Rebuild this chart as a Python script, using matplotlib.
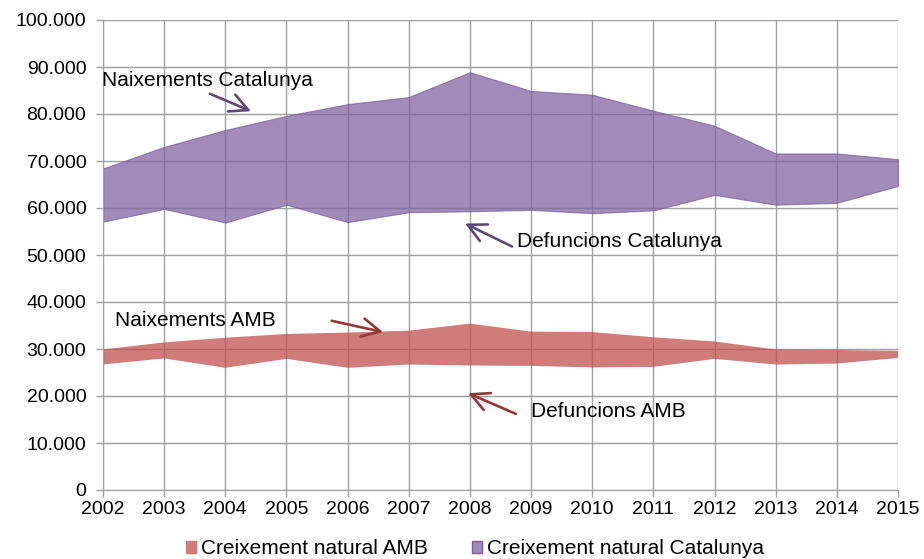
import matplotlib
matplotlib.use("Agg")
import matplotlib.pyplot as plt
from matplotlib.ticker import FuncFormatter, MultipleLocator
from matplotlib.patches import Patch

years = [2002, 2003, 2004, 2005, 2006, 2007, 2008, 2009, 2010, 2011, 2012, 2013, 2014, 2015]
naix_cat = [68.4, 73.0, 76.6, 79.6, 82.1, 83.6, 88.9, 84.9, 84.1, 80.7, 77.5, 71.6, 71.6, 70.4]
def_cat = [57.1, 59.8, 56.9, 60.7, 57.0, 59.1, 59.3, 59.6, 58.9, 59.5, 62.8, 60.7, 61.1, 64.7]
naix_amb = [29.9, 31.4, 32.4, 33.2, 33.5, 33.9, 35.4, 33.7, 33.6, 32.5, 31.6, 29.9, 29.8, 29.6]
def_amb = [26.7, 28.0, 26.0, 27.9, 26.0, 26.7, 26.5, 26.4, 26.1, 26.2, 27.9, 26.7, 26.9, 28.1]
naix_cat = [v * 1000 for v in naix_cat]
def_cat = [v * 1000 for v in def_cat]
naix_amb = [v * 1000 for v in naix_amb]
def_amb = [v * 1000 for v in def_amb]

plt.rcParams['font.family'] = ['Liberation Sans', 'DejaVu Sans']
fig = plt.figure(figsize=(9.24, 5.59), dpi=100)
ax = fig.add_axes([103/924, 1-490/559, (898-103)/924, 470/559])

grid_c = '#a0a0a0'
ax.set_axisbelow(True)
ax.grid(True, color=grid_c, lw=1.0)

ax.fill_between(years, def_amb, naix_amb, facecolor='#c0504d', alpha=0.75, lw=0, zorder=2)
ax.fill_between(years, def_cat, naix_cat, facecolor='#8064a2', alpha=0.75,
                edgecolor='#7a60a0', lw=0.8, zorder=2)

ax.set_xlim(2002, 2015)
ax.set_ylim(0, 100000)
ax.set_xticks(years)
ax.yaxis.set_major_locator(MultipleLocator(10000))
ax.yaxis.set_major_formatter(FuncFormatter(lambda v, p: f"{int(v):,}".replace(",", ".")))
for s in ['top', 'right']:
    ax.spines[s].set_visible(False)
for s in ['left', 'bottom']:
    ax.spines[s].set_color(grid_c)
ax.tick_params(axis='both', colors=grid_c, labelcolor='black', labelsize=14, length=5, width=1)
ax.tick_params(axis='y', pad=7)
ax.tick_params(axis='x', pad=3)

cat_arrow = '#60497a'
amb_arrow = '#953735'
ap = dict(arrowstyle='->,head_length=0.65,head_width=0.33', lw=1.9, mutation_scale=20,
          shrinkA=0, shrinkB=0)
tfs = 15
ax.annotate('', xy=(2004.42, 80600), xytext=(2003.75, 84300),
            arrowprops=dict(color=cat_arrow, **ap))
ax.text(2001.99, 87200, 'Naixements Catalunya', fontsize=tfs, va='center', ha='left')
ax.annotate('', xy=(2007.92, 56700), xytext=(2008.69, 51800),
            arrowprops=dict(color=cat_arrow, **ap))
ax.text(2008.77, 52800, 'Defuncions Catalunya', fontsize=tfs, va='center', ha='left')
ax.annotate('', xy=(2006.58, 33600), xytext=(2005.74, 36000),
            arrowprops=dict(color=amb_arrow, **ap))
ax.text(2002.2, 36000, 'Naixements AMB', fontsize=tfs, va='center', ha='left')
ax.annotate('', xy=(2007.97, 20600), xytext=(2008.75, 16200),
            arrowprops=dict(color=amb_arrow, **ap))
ax.text(2009.0, 16700, 'Defuncions AMB', fontsize=tfs, va='center', ha='left')

handles = [Patch(facecolor='#d07c79', edgecolor='#d07c79', label='Creixement natural AMB'),
           Patch(facecolor='#a08bba', edgecolor='#7a60a0', label='Creixement natural Catalunya')]
fig.legend(handles=handles, loc='center', bbox_to_anchor=(475/924, 1-549/559), ncol=2,
           frameon=False, fontsize=15, handlelength=0.5, handleheight=0.5,
           handletextpad=0.25, columnspacing=2.1, borderpad=0)

fig.savefig('out.png', dpi=100)
